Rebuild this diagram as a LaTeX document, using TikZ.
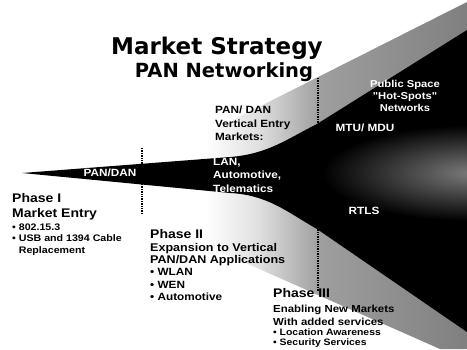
\documentclass[tikz,border=0pt]{standalone}
\usepackage{fontspec}
\newfontfamily\titlefont{DejaVu Sans}
\newfontfamily\labelfont[FakeStretch=1.12]{Liberation Sans}
\usetikzlibrary{positioning}
\pgfdeclarehorizontalshading{halo}{100bp}{color(0bp)=(white); color(25bp)=(white); color(35bp)=(black!12); color(47bp)=(black!38); color(75bp)=(black!50); color(100bp)=(black!50)}
\tikzset{
    heading/.style={
        font=\titlefont\bfseries\fontsize{23}{23}\selectfont,
        align=center,
        inner sep=0pt
    },
    phase/.style={
        font=\labelfont\bfseries\fontsize{10.5}{12.3}\selectfont,
        align=left,
        anchor=north west,
        inner sep=0pt
    },
    market/.style={
        font=\labelfont\bfseries\fontsize{10.5}{13.3}\selectfont,
        align=left,
        anchor=north west,
        inner sep=0pt
    },
    onblack/.style={
        market,
        text=white
    },
    milestone/.style={
        dash pattern=on 1.3pt off 1.1pt,
        line width=1.5pt
    }
}

\begin{document}
\begin{tikzpicture}[x=1pt,y=-1pt]
    \clip (0,0) rectangle (467,349);

    % Funnel halo and black funnel
    \shade[shading=halo] (205,134) -- (467,2) -- (467,349) -- (440,349) -- (205,245) -- cycle;
    \begin{scope}
        \clip (22,173) -- (230,157) .. controls (268,154) and (287,139) .. (317,124) -- (467,30)
            -- (467,332) -- (317,229) .. controls (287,212) and (268,195) .. (230,193) -- cycle;
        \fill[black] (0,0) rectangle (467,349);
        \shade[inner color=black!52, outer color=black] (472,173) ellipse (150 and 48);
    \end{scope}

    % Milestones
    \coordinate (entrytop) at (142,148);
    \coordinate (entrybot) at (142,213);
    \coordinate (verttop) at (318,78);
    \coordinate (vertbot) at (318,291);
    \draw[milestone] (entrytop) -- (entrybot);
    \draw[milestone] (verttop) -- (vertbot);

    % Title
    \node[heading, anchor=north] (title) at (217,37) {Market Strategy};
    \node[heading, font=\titlefont\bfseries\fontsize{19.5}{19.5}\selectfont,
          below=3pt of title, xshift=7pt] (subtitle) {PAN Networking};

    % Markets on the funnel
    \node[onblack, anchor=center] (pandan) at (110,173) {PAN/DAN};
    \node[onblack] (vertical) at (213,158) {LAN,\\Automotive,\\Telematics};
    \node[market] (entry) at (215,106) {PAN/ DAN\\Vertical Entry\\Markets:};
    \node[onblack, anchor=center, align=center,
          font=\labelfont\bfseries\fontsize{10}{12}\selectfont] (hotspots) at (405,96)
        {Public Space\\"Hot-Spots"\\Networks};
    \node[onblack, anchor=center] (mtu) at (365,128) {MTU/ MDU};
    \node[onblack, anchor=center] (rtls) at (364,211) {RTLS};

    % Phases
    \node[phase, font=\labelfont\bfseries\fontsize{9.5}{11.5}\selectfont] (phaseone) at (12,193)
        {{\fontsize{12.5}{12.5}\selectfont Phase I}\\[3.5pt]
         {\fontsize{12.5}{12.5}\selectfont Market Entry}\\[1.5pt]
         • 802.15.3\\
         • USB and 1394 Cable\\
         \hphantom{• }Replacement};
    \node[phase] (phasetwo) at (150,229)
        {{\fontsize{12.5}{12.5}\selectfont Phase II}\\[0.7pt]
         {\fontsize{11.2}{11.2}\selectfont Expansion to Vertical}\\
         {\fontsize{11.2}{11.2}\selectfont PAN/DAN Applications}\\
         • WLAN\\
         • WEN\\
         • Automotive};
    \node[phase, font=\labelfont\bfseries\fontsize{9.3}{12.5}\selectfont] (phasethree) at (273,288)
        {{\fontsize{12.5}{12.5}\selectfont Phase III}\\[2.5pt]
         {\fontsize{10.2}{10.2}\selectfont Enabling New Markets}\\[0.5pt]
         {\fontsize{10.2}{10.2}\selectfont With added services}\\[-1.8pt]
         • Location Awareness\\[-2.5pt]
         • Security Services};
\end{tikzpicture}
\end{document}
